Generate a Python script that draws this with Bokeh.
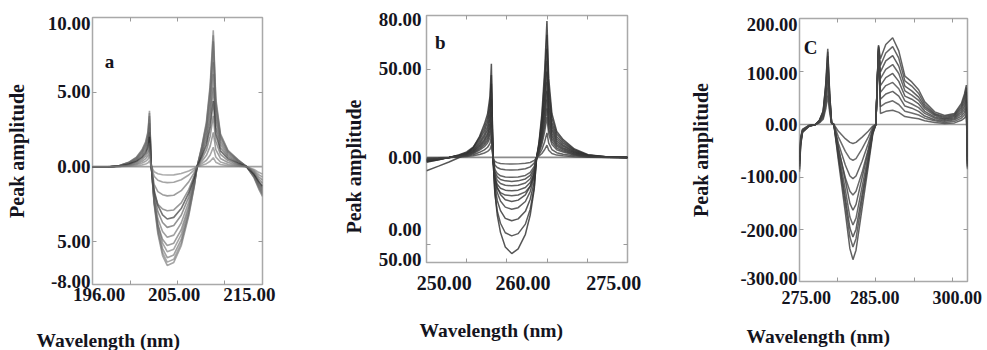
import math
from bokeh.plotting import figure
from bokeh.models import FixedTicker, LinearAxis, Label, Range1d, Title
from bokeh.embed import file_html
from bokeh.resources import INLINE

SERIF = "Liberation Serif"
INK = "#141420"
ZERO = [0.0, 0.0]

# ---------------- panel a ----------------
wl_a = [195.9, 197.5, 198.8, 199.8, 200.6, 201.2, 201.6, 201.85, 202.0, 202.2,
        202.5, 202.9, 203.4, 203.9, 204.6, 205.4, 206.2, 206.8, 207.1,
        207.6, 208.1, 208.5, 208.83, 209.1, 209.6, 210.4, 211.5, 212.4,
        213.2, 213.7, 214.1]
curves_a = [
    [-0.04, -0.04, 0.08, 0.30, 0.64, 1.13, 1.69, 2.4, 3.75, 0.0, -2.52, -4.5, -5.96, -6.62, -6.42, -5.3, -3.31, -1.32, 0.0, 1.37, 3.02, 5.49, 9.15, 4.58, 2.2, 1.1, 0.46, 0.0, -0.75, -1.5, -2.0],
    [-0.04, -0.04, 0.07, 0.29, 0.61, 1.08, 1.62, 2.3, 3.6, 0.0, -2.43, -4.35, -5.76, -6.4, -6.21, -5.12, -3.2, -1.28, 0.0, 1.32, 2.9, 5.28, 8.8, 4.4, 2.11, 1.06, 0.44, 0.0, -0.71, -1.43, -1.9],
    [-0.03, -0.03, 0.07, 0.27, 0.58, 1.02, 1.53, 2.18, 3.4, 0.0, -2.32, -4.15, -5.49, -6.1, -5.92, -4.88, -3.05, -1.22, 0.0, 1.26, 2.77, 5.04, 8.4, 4.2, 2.02, 1.01, 0.42, 0.0, -0.68, -1.35, -1.8],
    [-0.03, -0.03, 0.06, 0.25, 0.54, 0.95, 1.42, 2.02, 3.15, 0.0, -2.17, -3.88, -5.13, -5.7, -5.53, -4.56, -2.85, -1.14, 0.0, 1.17, 2.57, 4.68, 7.8, 3.9, 1.87, 0.94, 0.39, 0.0, -0.64, -1.28, -1.7],
    [-0.03, -0.03, 0.06, 0.23, 0.49, 0.87, 1.31, 1.86, 2.9, 0.0, -2.38, -3.91, -4.87, -5.29, -5.13, -4.23, -2.65, -1.06, 0.0, 1.05, 2.31, 4.2, 7.0, 3.5, 1.68, 0.84, 0.35, 0.0, -0.6, -1.2, -1.6],
    [-0.03, -0.03, 0.05, 0.21, 0.44, 0.78, 1.17, 1.66, 2.6, 0.0, -2.13, -3.5, -4.35, -4.73, -4.59, -3.78, -2.37, -0.95, 0.0, 0.93, 2.05, 3.72, 6.2, 3.1, 1.49, 0.74, 0.31, 0.0, -0.56, -1.13, -1.5],
    [-0.02, -0.02, 0.05, 0.18, 0.39, 0.69, 1.04, 1.47, 2.3, 0.0, -1.83, -3.01, -3.74, -4.07, -3.95, -3.26, -2.04, -0.81, 0.0, 0.8, 1.75, 3.18, 5.3, 2.65, 1.27, 0.64, 0.27, 0.0, -0.53, -1.05, -1.4],
    [-0.02, -0.02, 0.04, 0.16, 0.34, 0.6, 0.9, 1.28, 2.0, 0.0, -1.58, -2.6, -3.23, -3.51, -3.4, -2.81, -1.76, -0.7, 0.0, 0.66, 1.45, 2.64, 4.4, 2.2, 1.06, 0.53, 0.22, 0.0, -0.49, -0.98, -1.3],
    [-0.02, -0.02, 0.03, 0.13, 0.27, 0.48, 0.72, 1.02, 1.6, 0.0, -1.78, -2.52, -2.84, -2.96, -2.9, -2.43, -1.54, -0.59, 0.0, 0.51, 1.12, 2.04, 3.4, 1.7, 0.82, 0.41, 0.17, 0.0, -0.41, -0.83, -1.1],
    [-0.01, -0.01, 0.02, 0.1, 0.2, 0.36, 0.54, 0.77, 1.2, 0.0, -1.18, -1.67, -1.88, -1.96, -1.92, -1.61, -1.02, -0.39, 0.0, 0.35, 0.76, 1.38, 2.3, 1.15, 0.55, 0.28, 0.12, 0.0, -0.34, -0.68, -0.9],
    [-0.01, -0.01, 0.02, 0.06, 0.14, 0.24, 0.36, 0.51, 0.8, 0.0, -0.64, -0.91, -1.03, -1.07, -1.05, -0.88, -0.56, -0.21, 0.0, 0.2, 0.43, 0.78, 1.3, 0.65, 0.31, 0.16, 0.07, 0.0, -0.26, -0.53, -0.7],
    [0.0, 0.0, 0.01, 0.03, 0.07, 0.12, 0.18, 0.26, 0.4, 0.0, -0.34, -0.48, -0.54, -0.56, -0.55, -0.46, -0.29, -0.11, 0.0, 0.09, 0.2, 0.36, 0.6, 0.3, 0.14, 0.07, 0.03, 0.0, -0.19, -0.38, -0.5],
]
colors_a = ["#6e6e6e", "#747474", "#686868", "#707070", "#626262", "#666666",
            "#505050", "#1e1e1e", "#5a5a5a", "#626262", "#6e6e6e", "#787878"]
xticks_a = [196.6, 204.65, 212.7]
xlabels_a = ["196.00", "205.00", "215.00"]
yticks_a = [9.6, 5.03, 0.0, -5.0, -7.7]
ylabels_a = ["10.00", "5.00", "0.00", "5.00", "-8.00"]
frame_xt_a = [200.0, 205.0, 210.0]
frame_yt_a = [5.0, -5.0]

# ---------------- panel b ----------------
wl_b = [250.0, 251.5, 252.8, 254.0, 255.0, 255.8, 256.6, 257.2, 257.6, 257.9, 258.07, 258.27,
        258.5, 258.8, 259.2, 259.8, 260.6, 261.4, 262.3, 262.9, 263.4, 263.7,
        264.0, 264.35, 264.7, 264.98, 265.2, 265.6, 266.2, 267.0, 268.4, 270.1, 272.6, 275.0]
curves_b = [
    [-7.6, -5.0, -2.6, -0.2, 2.0, 5.5, 12.0, 19.0, 25.0, 35.0, 53.4, 0.0, -19.8, -32.9, -42.8, -51.1, -54.9, -52.2, -43.9, -32.9, -18.1, 0.0, 8.9, 24.9, 49.8, 77.8, 45.1, 24.9, 14.8, 10.1, 4.8, 1.5, 0.2, 0.0],
    [-2.8, -1.4, 0.0, 1.4, 3.1, 5.9, 11.3, 16.9, 22.6, 31.5, 47.0, 0.0, -20.2, -30.5, -37.6, -43.0, -44.8, -43.5, -38.1, -29.6, -17.0, 0.0, 8.1, 22.4, 44.8, 70.0, 40.6, 22.4, 13.3, 9.1, 4.3, 1.3, 0.2, 0.0],
    [-2.5, -1.3, 0.0, 1.3, 2.7, 5.3, 10.1, 15.1, 20.2, 28.1, 42.0, 0.0, -16.3, -24.6, -30.4, -34.8, -36.2, -35.1, -30.8, -23.9, -13.8, 0.0, 7.1, 19.8, 39.7, 62.0, 36.0, 19.8, 11.8, 8.1, 3.8, 1.2, 0.2, 0.0],
    [-2.2, -1.1, 0.0, 1.1, 2.4, 4.6, 8.9, 13.3, 17.8, 24.8, 37.0, 0.0, -13.3, -20.1, -24.9, -28.4, -29.6, -28.7, -25.2, -19.5, -11.2, 0.0, 6.3, 17.6, 35.2, 55.0, 31.9, 17.6, 10.5, 7.2, 3.4, 1.0, 0.2, 0.0],
    [-2.0, -1.0, 0.0, 1.0, 2.1, 4.1, 7.9, 11.9, 15.8, 22.1, 33.0, 0.0, -11.3, -17.1, -21.2, -24.2, -25.2, -24.4, -21.4, -16.6, -9.6, 0.0, 5.6, 15.7, 31.4, 49.0, 28.4, 15.7, 9.3, 6.4, 3.0, 0.9, 0.1, 0.0],
    [-1.7, -0.9, 0.0, 0.9, 1.9, 3.6, 7.0, 10.4, 13.9, 19.4, 29.0, 0.0, -13.1, -17.5, -20.1, -21.5, -21.9, -21.5, -19.7, -16.4, -9.9, 0.0, 4.9, 13.8, 27.5, 43.0, 24.9, 13.8, 8.2, 5.6, 2.7, 0.8, 0.1, 0.0],
    [-1.6, -0.8, 0.0, 0.8, 1.7, 3.3, 6.2, 9.4, 12.5, 17.4, 26.0, 0.0, -11.5, -15.3, -17.6, -18.7, -19.1, -18.7, -17.2, -14.3, -8.6, 0.0, 4.4, 12.2, 24.3, 38.0, 22.0, 12.2, 7.2, 4.9, 2.4, 0.7, 0.1, 0.0],
    [-1.4, -0.7, 0.0, 0.7, 1.5, 2.9, 5.5, 8.3, 11.0, 15.4, 23.0, 0.0, -9.7, -13.0, -14.9, -15.9, -16.2, -15.9, -14.6, -12.2, -7.3, 0.0, 3.8, 10.6, 21.1, 33.0, 19.1, 10.6, 6.3, 4.3, 2.0, 0.6, 0.1, 0.0],
    [-1.2, -0.6, 0.0, 0.6, 1.3, 2.5, 4.8, 7.2, 9.6, 13.4, 20.0, 0.0, -8.2, -11.0, -12.6, -13.4, -13.7, -13.4, -12.3, -10.3, -6.2, 0.0, 3.2, 9.0, 17.9, 28.0, 16.2, 9.0, 5.3, 3.6, 1.7, 0.5, 0.1, 0.0],
    [-1.0, -0.5, 0.0, 0.5, 1.1, 2.1, 4.1, 6.1, 8.2, 11.4, 17.0, 0.0, -6.8, -9.1, -10.5, -11.2, -11.4, -11.2, -10.3, -8.6, -5.1, 0.0, 2.6, 7.4, 14.7, 23.0, 13.3, 7.4, 4.4, 3.0, 1.4, 0.4, 0.1, 0.0],
    [-0.7, -0.4, 0.0, 0.4, 0.8, 1.5, 2.9, 4.3, 5.8, 8.0, 12.0, 0.0, -4.3, -5.8, -6.6, -7.1, -7.2, -7.1, -6.5, -5.4, -3.2, 0.0, 1.6, 4.5, 9.0, 14.0, 8.1, 4.5, 2.7, 1.8, 0.9, 0.3, 0.0, 0.0],
    [-0.4, -0.2, 0.0, 0.2, 0.5, 0.9, 1.7, 2.5, 3.4, 4.7, 7.0, 0.0, -2.3, -3.0, -3.5, -3.7, -3.8, -3.7, -3.4, -2.9, -1.7, 0.0, 0.8, 2.2, 4.5, 7.0, 4.1, 2.2, 1.3, 0.9, 0.4, 0.1, 0.0, 0.0],
]
colors_b = ["#2a2a2a", "#333333", "#2e2e2e", "#383838", "#303030", "#3a3a3a",
            "#333333", "#3c3c3c", "#363636", "#404040", "#3a3a3a", "#444444"]
xticks_b = [252.2, 262.0, 273.3]
xlabels_b = ["250.00", "260.00", "275.00"]
yticks_b = [78.7, 50.6, 0.0, -41.0, -58.1]
ylabels_b = ["80.00", "50.00", "0.00", "0.00", "50.00"]
frame_xt_b = [255.0, 260.0, 265.0, 270.0]
frame_yt_b = [50.0, -50.0]

# ---------------- panel c ----------------
wl_c = [275.0, 275.15, 275.4, 276.2, 277.1, 277.6, 278.1, 278.45, 278.7, 278.95, 279.2, 279.5,
        280.1, 281.0, 281.6, 282.0, 282.4, 283.2, 284.0, 284.6, 285.0,
        285.2, 285.35, 285.6, 286.3, 287.2, 288.0, 288.8, 289.7, 290.6, 291.4, 292.7,
        294.0, 295.3, 296.2, 296.6, 296.85, 297.0]
curves_c = [
    [-90, -40, -15, -4, 0, 8, 26, 79, 144, 60, 4, 0, -69, -167, -236, -257, -239, -159, -80, -18, 0, 90, 151, 125, 152, 165, 140, 92, 81, 66, 43, 24, 17, 21, 40, 58, 75, -85],
    [-85, -38, -14, -4, 0, 7.6, 24.8, 75.9, 138, 58, 4.1, 0, -63, -151, -214, -233, -217, -144, -72, -16, 0, 89, 149, 112, 136, 148, 126, 83, 73, 59, 38, 21, 15, 19, 36, 53, 70, -82],
    [-80, -36, -13, -3, 0, 7.2, 23.4, 71.5, 130, 54.6, 3.9, 0, -58, -139, -197, -214, -199, -133, -66, -15, 0, 88, 147, 100, 121, 131, 111, 73, 64, 52, 34, 19, 13, 17, 32, 47, 62, -80],
    [-75, -34, -12, -3, 0, 6.6, 21.6, 66, 120, 50.4, 3.6, 0, -52, -124, -176, -191, -178, -118, -59, -13, 0, 87, 145, 87, 105, 114, 97, 64, 56, 46, 30, 17, 11, 15, 28, 41, 55, -78],
    [-70, -32, -12, -3, 0, 6.1, 19.8, 60.5, 110, 46.2, 3.3, 0, -44, -106, -150, -163, -152, -101, -51, -11, 0, 86, 143, 74, 89, 97, 82, 54, 48, 39, 25, 14, 10, 13, 24, 35, 47, -75],
    [-65, -30, -11, -3, 0, 5.4, 17.6, 53.9, 98, 41.2, 2.9, 0, -47, -101, -127, -134, -127, -91, -47, -11, 0, 85, 141, 61, 74, 80, 68, 45, 39, 32, 21, 12, 8, 11, 20, 29, 40, -72],
    [-62, -28, -10, -2, 0, 4.7, 15.3, 46.8, 85, 35.7, 2.6, 0, -36, -77, -98, -103, -98, -70, -36, -8, 0, 83, 139, 48, 58, 63, 54, 35, 31, 25, 16, 9, 6, 9, 16, 23, 32, -70],
    [-58, -26, -10, -2, 0, 3.9, 12.6, 38.5, 70, 29.4, 2.1, 0, -24, -51, -65, -68, -65, -46, -24, -5, 0, 82, 137, 34, 41, 45, 38, 25, 22, 18, 12, 7, 4, 6, 12, 18, 25, -66],
    [-55, -24, -9, -2, 0, 3.0, 9.9, 30.3, 55, 23.1, 1.7, 0, -13, -27, -34, -36, -34, -24, -13, -3, 0, 81, 135, 21, 25, 27, 23, 15, 13, 11, 7, 4, 2, 3, 8, 12, 18, -62],
]
colors_c = ["#3a3a3a", "#404040", "#383838", "#444444", "#3c3c3c",
            "#454545", "#3e3e3e", "#484848", "#424242"]
xticks_c = [275.9, 284.85, 295.65]
xlabels_c = ["275.00", "285.00", "300.00"]
yticks_c = [190.9, 96.0, 0.0, -99.6, -200.8, -292.5]
ylabels_c = ["200.00", "100.00", "0.00", "-100.00", "-200.00", "-300.00"]
frame_xt_c = [280.0, 285.0, 290.0, 295.0]
frame_yt_c = [100.0, -100.0, -200.0]

# frame geometry on the page (px) and data ranges
GA = dict(left=92, top=17, w=170, h=267, xr=(195.9, 214.1), yr=(-7.9, 10.0))
GB = dict(left=424, top=15, w=203, h=247, xr=(250.0, 275.0), yr=(-60.0, 81.0))
GC = dict(left=799, top=18, w=168, h=263, xr=(275.0, 297.0), yr=(-298.5, 201.5))
H = 350


def page_to_data(g, X, Y):
    x0, x1 = g["xr"]
    y0, y1 = g["yr"]
    x = x0 + (X - g["left"]) / g["w"] * (x1 - x0)
    y = y1 - (Y - g["top"]) / g["h"] * (y1 - y0)
    return x, y


def style_main_axis(ax, fs, standoff):
    ax.axis_line_color = None
    ax.major_tick_line_color = None
    ax.major_tick_out = 0
    ax.major_tick_in = 0
    ax.minor_tick_line_color = "#9a9a9a"
    ax.minor_tick_in = 4
    ax.minor_tick_out = 0
    ax.major_label_text_font = SERIF
    ax.major_label_text_font_style = "bold"
    ax.major_label_text_font_size = fs
    ax.major_label_text_color = INK
    ax.major_label_standoff = standoff


def tick_axis(ticks):
    return LinearAxis(ticker=FixedTicker(ticks=[], minor_ticks=ticks), axis_line_color=None,
                      major_tick_line_color=None, major_tick_out=0, major_tick_in=0,
                      minor_tick_in=4, minor_tick_out=0,
                      minor_tick_line_color="#9a9a9a", major_label_standoff=0)


def spacer_axis(g, px):
    mid = 0.5 * (g["xr"][0] + g["xr"][1])
    return LinearAxis(ticker=FixedTicker(ticks=[mid]), axis_line_color=None,
                      major_tick_line_color="white", minor_tick_line_color=None,
                      major_tick_in=0, major_tick_out=px, minor_tick_out=0,
                      major_label_overrides={mid: ""}, major_label_text_color=None,
                      major_label_standoff=0)


def add_letter(p, g, text, X, Y):
    x, y = page_to_data(g, X, Y)
    p.add_layout(Label(x=x, y=y, text=text, text_font=SERIF, text_font_style="bold",
                       text_font_size="19px", text_color=INK,
                       text_align="center", text_baseline="alphabetic"))


def side_title(text, offset, standoff, size):
    return Title(text=text, align="left", offset=offset, standoff=standoff,
                 text_font=SERIF, text_font_style="bold", text_font_size=size,
                 text_color=INK)


def panel(g, width, page_x, wl, curves, colors, alpha, lw, zero_color,
          xt, xl, yt, yl, fxt, fyt, xfs, yfs, xstand, ystand,
          wl_offset, wl_gap, ylab_standoff=None):
    bl = g["left"] - page_x
    br = width - bl - g["w"]
    bt = g["top"]
    bb = H - bt - g["h"]
    p = figure(width=width, height=H, x_range=Range1d(*g["xr"]), y_range=Range1d(*g["yr"]),
               output_backend="svg", toolbar_location=None,
               x_axis_type=None, y_axis_type=None,
               min_border_left=bl, min_border_right=br,
               min_border_top=bt, min_border_bottom=bb,
               styles={"position": "absolute", "left": f"{page_x}px", "top": "0px"})
    p.outline_line_color = "#a9a9a9"
    p.outline_line_width = 1.5
    p.background_fill_color = "white"
    p.border_fill_color = "white"
    p.line([wl[0], wl[-1]], ZERO, line_color=zero_color, line_width=1.6)
    for c, col in zip(curves, colors):
        p.line(wl, c, line_color=col, line_alpha=alpha, line_width=lw)

    xa = LinearAxis(ticker=FixedTicker(ticks=xt, minor_ticks=fxt),
                    major_label_overrides={t: s for t, s in zip(xt, xl)})
    style_main_axis(xa, xfs, xstand)
    p.add_layout(xa, "below")
    p.add_layout(spacer_axis(g, wl_gap), "below")
    p.add_layout(side_title("Wavelength (nm)", wl_offset, 0, "19.5px"), "below")

    ya = LinearAxis(ticker=FixedTicker(ticks=yt, minor_ticks=fyt),
                    major_label_overrides={t: s for t, s in zip(yt, yl)})
    style_main_axis(ya, yfs, ystand)
    if ylab_standoff is not None:
        ya.axis_label = "Peak amplitude"
        ya.axis_label_standoff = ylab_standoff
        ya.axis_label_text_font = SERIF
        ya.axis_label_text_font_style = "bold"
        ya.axis_label_text_font_size = "20px"
        ya.axis_label_text_color = INK
    p.add_layout(ya, "left")
    p.add_layout(tick_axis(fxt), "above")
    p.add_layout(tick_axis(fyt), "right")
    return p


pa = panel(GA, 330, 0, wl_a, curves_a, colors_a, 0.62, 1.6, "#a0a0a0",
           xticks_a, xlabels_a, yticks_a, ylabels_a, frame_xt_a, frame_yt_a,
           "19px", "19px", 3, 2, -56, 24, ylab_standoff=17)
add_letter(pa, GA, "a", 109, 60.5)

pb = panel(GB, 350, 330, wl_b, curves_b, colors_b, 0.8, 1.5, "#8c8c8c",
           xticks_b, xlabels_b, yticks_b, ylabels_b, frame_xt_b, frame_yt_b,
           "20px", "19px", 13, 5, -7, 25)
pb.add_layout(side_title("Peak amplitude", 29, 21, "20px"), "left")
add_letter(pb, GB, "b", 438, 41.5)

pc = panel(GC, 305, 680, wl_c, curves_c, colors_c, 0.8, 1.5, "#9c9c9c",
           xticks_c, xlabels_c, yticks_c, ylabels_c, frame_xt_c, frame_yt_c,
           "18px", "18.5px", 9, 2, -53, 17, ylab_standoff=25)
add_letter(pc, GC, "C", 810, 46.5)

open("out.html", "w").write(file_html([pa, pb, pc], INLINE))
